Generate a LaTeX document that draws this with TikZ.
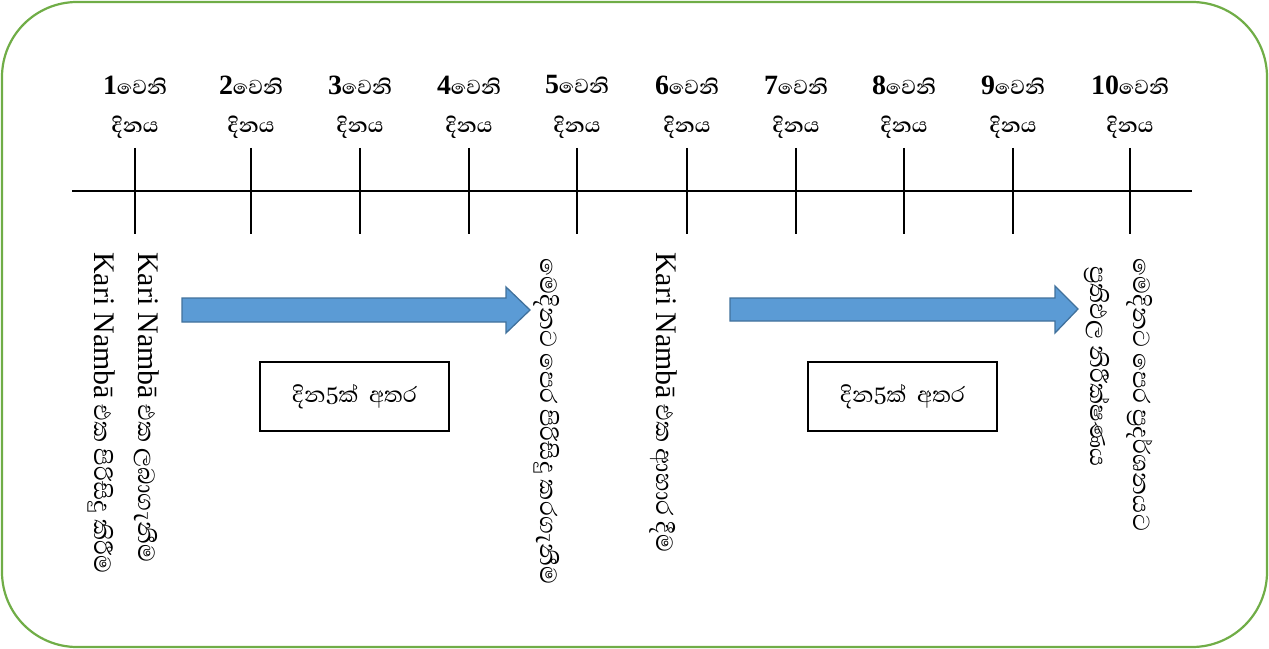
\documentclass[tikz,border=0pt]{standalone}
\usepackage{fontspec}
\newfontfamily\sinhfont[Script=Sinhala]{Abhaya Libre}
\newfontfamily\latinfont{Liberation Serif}
\definecolor{framegreen}{HTML}{70AD47}
\definecolor{arrowblue}{HTML}{5B9BD5}
\definecolor{arrowedge}{HTML}{41719C}
\begin{document}
\begin{tikzpicture}[x=1bp,y=-1bp,
 daylbl/.style={inner sep=0, font=\sinhfont\bfseries\fontsize{26}{30}\selectfont},
 tickline/.style={line width=1.3bp},
 vtext/.style={rotate=-90, anchor=west, inner sep=0, font=\sinhfont\fontsize{30}{34}\selectfont},
 blockarrow/.style={fill=arrowblue, draw=arrowedge, line width=1.3bp, line join=miter},
 gapbox/.style={draw, line width=1.2bp, minimum width=189bp, minimum height=69bp, inner sep=0, font=\sinhfont\fontsize{28}{32}\selectfont}]
\useasboundingbox (0,0) rectangle (1269,649);
\draw[framegreen, line width=2.2bp, rounded corners=75bp] (2,2) rectangle (1267,647);
\coordinate (tlstart) at (72,191);
\coordinate (tlend) at (1192,191);
\draw[line width=1.3bp] (tlstart) -- (tlend);
\foreach \n/\x in {1/135,2/251,3/360,4/469,5/577,6/687,7/796,8/904,9/1013,10/1130}{
  \coordinate (ta\n) at (\x,148);
  \coordinate (tb\n) at (\x,234);
  \draw[tickline] (ta\n) -- (tb\n);
  \node[daylbl] (hd\n) at (\x,85) {{\latinfont\bfseries\fontsize{28}{30}\selectfont\n}වෙනි};
  \node[daylbl] (dn\n) at (\x,127) {දිනය};
}
% block arrows
\draw[blockarrow] (182,298) -- (506,298) -- (506,287) -- (530,310) -- (506,333) -- (506,322) -- (182,322) -- cycle;
\draw[blockarrow] (730,298) -- (1055,298) -- (1055,286) -- (1078,309) -- (1055,333) -- (1055,321) -- (730,321) -- cycle;
% gap boxes
\node[gapbox] (gap1) at (354.5,396.5) {දින5ක්\ \ අතර};
\node[gapbox] (gap2) at (902.5,396.5) {දින5ක්\ \ අතර};
% vertical texts
\node[vtext] (c1) at (147,252) {{\latinfont\fontsize{30}{34}\selectfont Kari Nambā} එක ලබාගැනීම};
\node[vtext] (c2) at (102,252) {{\latinfont\fontsize{30}{34}\selectfont Kari Nambā} එක පිරිසිදු කිරීම};
\node[vtext] (c5) at (547,258) {මෙදිනට පෙර පිරිසිදු කරගැනීම};
\node[vtext] (c6) at (663,252) {{\latinfont\fontsize{30}{34}\selectfont Kari Nambā} එක ආහාර දීම};
\node[vtext] (c10a) at (1097,266) {ප්‍රතිඵල නිරීක්ෂණය};
\node[vtext] (c10b) at (1140,258) {මෙදිනට පෙර ප්‍රදර්ශනයට};
\end{tikzpicture}
\end{document}
